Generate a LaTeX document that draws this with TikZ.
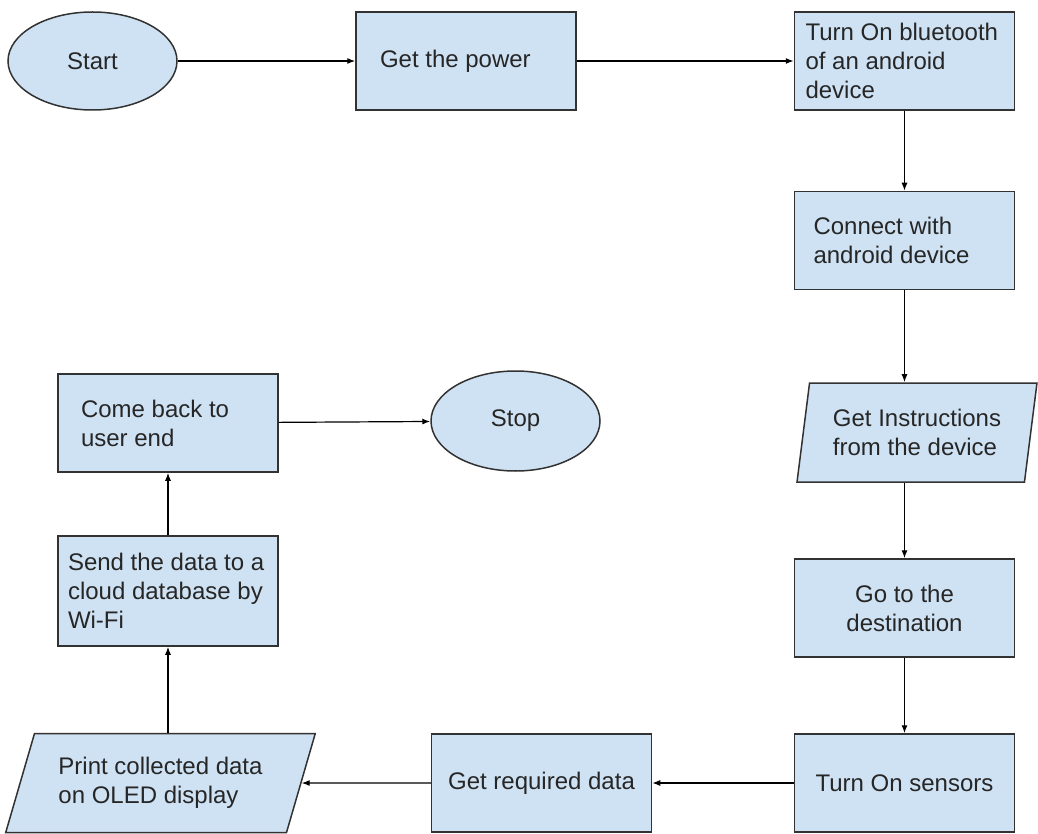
\documentclass[tikz,border=0pt]{standalone}
\usepackage{fontspec}
\setmainfont{Liberation Sans}
\usepackage{tikz}
\usetikzlibrary{shapes.geometric,arrows.meta}
\definecolor{boxblue}{RGB}{207,226,243}
\definecolor{linegray}{RGB}{50,50,50}

\begin{document}
\begin{tikzpicture}
  [x=0.5pt,y=-0.5pt,font=\fontsize{12}{14.5}\selectfont]
      \tikzstyle{box_style} = [rectangle, draw=linegray, fill=boxblue, line width=0.75pt, minimum width=110pt, minimum height=49pt, align=flush left, text=black!85]
      \tikzstyle{term_style} = [ellipse, draw=linegray, fill=boxblue, line width=0.75pt, minimum width=84.5pt, minimum height=49pt, text=black!85]
      \tikzstyle{io_style} = [trapezium, trapezium left angle=80, trapezium right angle=100, trapezium stretches=true, draw=linegray, fill=boxblue, line width=0.75pt, minimum height=49.5pt, align=left, text=black!85]
      \tikzstyle{edge_style} = [draw=black, line width=0.6pt, -{Latex[length=4pt,width=3pt]}]
  \useasboundingbox (0,0) rectangle (1038,834);
  \node[term_style] (n0) at (92.5,61) {Start};
  \node[box_style, text width=86pt] (n1) at (466,61) {Get the power};
  \node[box_style, text width=99pt] (n2) at (904.5,61) {Turn On bluetooth\\of an android\\device};
  \node[box_style, text width=91pt] (n3) at (904.5,240.5) {Connect with\\android device};
  \node[io_style, minimum width=120pt] (n4) at (917,432.5) {Get Instructions\\from the device};
  \node[box_style, align=center] (n5) at (904.5,608) {Go to the\\destination};
  \node[box_style] (n6) at (904.5,783) {Turn On sensors};
  \node[box_style] (n7) at (541.5,783) {Get required data};
  \node[io_style, trapezium left angle=69, trapezium right angle=111, minimum width=155pt] (n8) at (160.5,783) {Print collected data\\on OLED display};
  \node[box_style, minimum height=55pt, text width=100pt] (n9) at (168,591) {Send the data to a\\cloud database by\\Wi-Fi};
  \node[box_style, text width=87pt] (n10) at (168,423) {Come back to\\user end};
  \node[term_style, minimum height=50pt] (n11) at (515.5,421) {Stop};

  \draw[edge_style] (n0) edge (n1);
  \draw[edge_style] (n1) edge (n2);
  \draw[edge_style] (n2.south) -- (n3.north);
  \draw[edge_style] (n3.south) -- (n3.south |- n4.north);
  \draw[edge_style] (n4.south -| n5.north) -- (n5.north);
  \draw[edge_style] (n5.south) -- (n6.north);
  \draw[edge_style] (n6) edge (n7);
  \draw[edge_style] (n7) edge (n8);
  \draw[edge_style] (n9.south |- n8.north) -- (n9.south);
  \draw[edge_style] (n9.north) -- (n10.south);
  \draw[edge_style] (n10) edge (n11);
\end{tikzpicture}
\end{document}
